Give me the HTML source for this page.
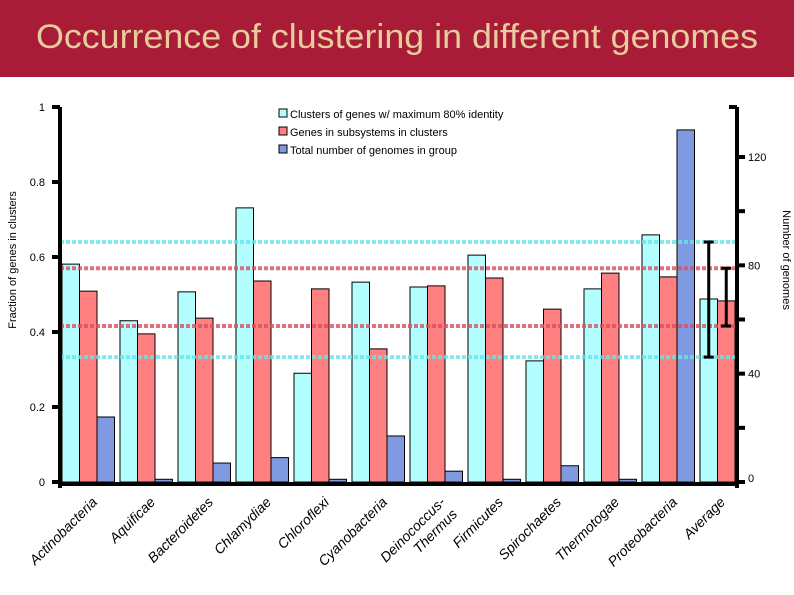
<!DOCTYPE html>
<html><head><meta charset="utf-8"><style>
html,body{margin:0;padding:0;background:#fff;}
svg{display:block;font-family:"Liberation Sans",sans-serif;}
</style></head><body>
<svg id="chart" width="794" height="595" viewBox="0 0 794 595" xmlns="http://www.w3.org/2000/svg">
<rect x="0" y="0" width="794" height="77" fill="#A81C37"/>
<text x="397" y="48" text-anchor="middle" font-size="34" fill="#E8CC9E" textLength="722" lengthAdjust="spacingAndGlyphs">Occurrence of clustering in different genomes</text>
<g id="plot"></g>
</svg>
<script>
const categories=["Actinobacteria","Aquificae","Bacteroidetes","Chlamydiae","Chloroflexi","Cyanobacteria","Deinococcus-Thermus","Firmicutes","Spirochaetes","Thermotogae","Proteobacteria","Average"];
const clusterValues=[0.581,0.43,0.507,0.731,0.29,0.533,0.52,0.605,0.323,0.515,0.659,0.488];
const subsystemValues=[0.509,0.395,0.437,0.536,0.515,0.355,0.523,0.544,0.461,0.557,0.547,0.483];
const genomeCounts=[24,1,7,9,1,17,4,1,6,1,130,null];
const leftTicks=[0,0.2,0.4,0.6,0.8,1];
const leftTickLabels=["0","0.2","0.4","0.6","0.8","1"];
const rightTicks=[0,20,40,60,80,100,120];
const rightTickLabels=["0","","40","","80","","120"];
const clusterRefLines=[0.64,0.333];
const subsystemRefLines=[0.57,0.416];
const errCluster=[0.333,0.64];
const errSubsystem=[0.416,0.57];

const NS="http://www.w3.org/2000/svg";
const g=document.getElementById('plot');
const X0=60,X1=737,Y0=482,Ytop=107;
const yL=v=>Y0-(Y0-Ytop)*v;
const yR=v=>Y0-v*(Y0-157)/120;
const groupW=58;
const barW=17.5;
const gx=i=>X0+2+groupW*i;
function el(t,a){const e=document.createElementNS(NS,t);for(const k in a)e.setAttribute(k,a[k]);g.appendChild(e);return e;}

categories.forEach((c,i)=>{
  const x=gx(i);
  let b=el('rect',{x:x,y:yL(clusterValues[i]),width:barW,height:Y0-yL(clusterValues[i]),fill:'#B3FFFF',stroke:'#000','stroke-width':1});
  
  
  b=el('rect',{x:x+barW,y:yL(subsystemValues[i]),width:barW,height:Y0-yL(subsystemValues[i]),fill:'#FF8080',stroke:'#000','stroke-width':1});
  
  
  if(genomeCounts[i]!==null){
    b=el('rect',{x:x+2*barW,y:yR(genomeCounts[i]),width:barW,height:Y0-yR(genomeCounts[i]),fill:'#7F9AE0',stroke:'#000','stroke-width':1});
    
    
  }
});
clusterRefLines.forEach((v,i)=>{const l=el('line',{x1:X0,x2:X1,y1:yL(v),y2:yL(v),stroke:'#66E6E6','stroke-width':4,'stroke-dasharray':'4 2',opacity:0.8});
  
  });
subsystemRefLines.forEach((v,i)=>{const l=el('line',{x1:X0,x2:X1,y1:yL(v),y2:yL(v),stroke:'#D85060','stroke-width':4,'stroke-dasharray':'4 2',opacity:0.8});
  
  });
const ai=categories.length-1;
[[errCluster,gx(ai)+barW*0.5],[errSubsystem,gx(ai)+barW*1.5]].forEach(([e,x],k)=>{
  const p=el('path',{d:`M${x},${yL(e[0])}V${yL(e[1])}M${x-5},${yL(e[0])}H${x+5}M${x-5},${yL(e[1])}H${x+5}`,stroke:'#000','stroke-width':3,fill:'none'});
  
  
});
let a=el('path',{d:`M${X0},${Ytop}V${Y0+6}M${X0-2},${Y0+2}H${X1+2}M${X1},${Ytop}V${Y0+6}M${X1},${Ytop}h-8`,stroke:'#000','stroke-width':4,fill:'none'});


leftTicks.forEach((v,i)=>{
  let t=el('line',{x1:X0-8,x2:X0,y1:yL(v),y2:yL(v),stroke:'#000','stroke-width':4});
  
  
  t=el('text',{x:X0-15,y:yL(v)+4,'text-anchor':'end','font-size':11});
  t.textContent=leftTickLabels[i];
  
  
});
rightTicks.forEach((v,i)=>{
  let t=el('line',{x1:X1,x2:X1+8,y1:yR(v),y2:yR(v),stroke:'#000','stroke-width':4});
  
  
  t=el('text',{x:X1+11,y:yR(v)+(v===0?0:4),'font-size':11});
  t.textContent=rightTickLabels[i];
  
  
});
let t=el('text',{x:16,y:260,'text-anchor':'middle','font-size':11,transform:'rotate(-90 16 260)'});
t.textContent='Fraction of genes in clusters';


t=el('text',{x:783,y:260,'text-anchor':'middle','font-size':11,transform:'rotate(90 783 260)'});
t.textContent='Number of genomes';


categories.forEach((c,i)=>{
  const x=gx(i)+(i===ai?26:36), y=503;
  const tx=el('text',{x:x,y:y,'text-anchor':'end','font-size':14,'font-style':'italic',transform:`rotate(-45 ${x} ${y})`});
  if(c==="Deinococcus-Thermus"){
    tx.innerHTML='<tspan x="'+x+'">Deinococcus-</tspan><tspan x="'+x+'" dy="17">Thermus</tspan>';
  } else tx.textContent=c;
  
  
});
[["Clusters of genes w/ maximum 80% identity","#B3FFFF"],["Genes in subsystems in clusters","#FF8080"],["Total number of genomes in group","#7F9AE0"]].forEach((L,i)=>{
  const y=114+18*i;
  let r=el('rect',{x:279,y:y-5,width:8,height:8,fill:L[1],stroke:'#000','stroke-width':1});
  
  
  let tt=el('text',{x:290,y:y+4,'font-size':11});
  tt.textContent=L[0];
  
  
});
</script>
</body></html>
